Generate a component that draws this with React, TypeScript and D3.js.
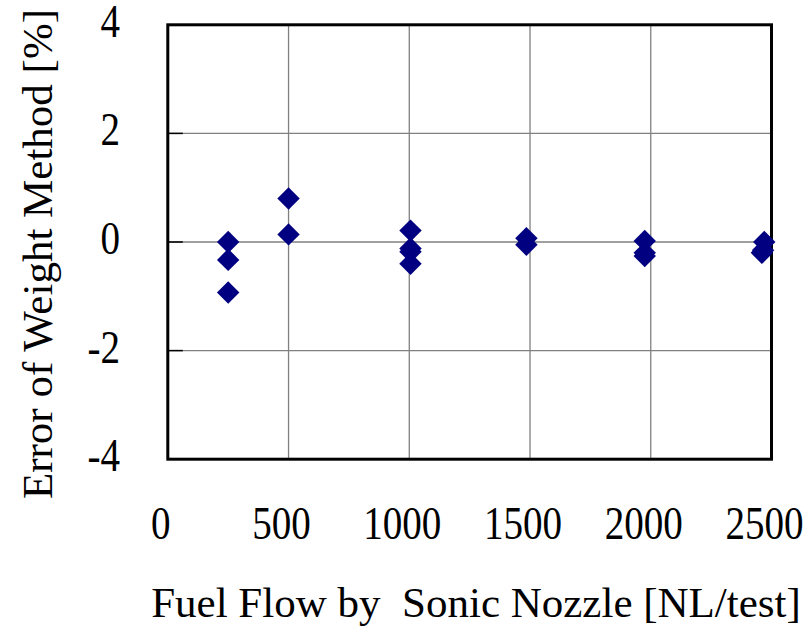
import React from "react";
import * as d3 from "d3";

// Measured fuel flow (NL/test) and the weight-method error (%) at each point
const flowValues = [
  250, 250, 250,
  500, 500,
  1005, 1005, 1005, 1005,
  1485, 1485,
  1975, 1975, 1975,
  2470, 2465, 2460,
];
const errorValues = [
  0.0, -0.33, -0.93,
  0.8, 0.14,
  0.21, -0.12, -0.18, -0.4,
  0.07, -0.05,
  0.02, -0.2, -0.26,
  0.0, -0.15, -0.2,
];
const xTicks = [0, 500, 1000, 1500, 2000, 2500];
const yTicks = [-4, -2, 0, 2, 4];
const xTitle = "Fuel Flow by  Sonic Nozzle [NL/test]";
const yTitle = "Error of Weight Method [%]";

const W = 811;
const H = 626;
const plot = { left: 167.8, right: 771.5, top: 24.8, bottom: 459.2 };
const font = "'Liberation Serif', 'Times New Roman', serif";
const tickFontSize = 46;
const tickSquash = 0.85;
const titleFontSize = 43;

export default function App() {
  const x = d3.scaleLinear().domain([0, 2500]).range([plot.left, plot.right]);
  const y = d3.scaleLinear().domain([-4, 4]).range([plot.bottom, plot.top]);
  const diamond = d3.symbol().type(d3.symbolDiamond2).size(320)();

  return (
    <svg
      width={W}
      height={H}
      style={{ position: "absolute", left: 0, top: 0, background: "#fff" }}
    >
      {/* grid */}
      {xTicks.slice(1, -1).map((t) => (
        <line
          key={"gx" + t}
          x1={x(t)}
          x2={x(t)}
          y1={plot.top}
          y2={plot.bottom}
          stroke="#808080"
          strokeWidth={1.3}
        />
      ))}
      {yTicks.slice(1, -1).map((t) => (
        <line
          key={"gy" + t}
          x1={plot.left}
          x2={plot.right}
          y1={y(t)}
          y2={y(t)}
          stroke="#808080"
          strokeWidth={1.3}
        />
      ))}
      {/* inward ticks on the value axis */}
      {yTicks.map((t) => (
        <line
          key={"ty" + t}
          x1={plot.left}
          x2={plot.left + 15}
          y1={y(t)}
          y2={y(t)}
          stroke="#000"
          strokeWidth={1.5}
        />
      ))}
      {/* frame */}
      <rect
        x={plot.left}
        y={plot.top}
        width={plot.right - plot.left}
        height={plot.bottom - plot.top}
        fill="none"
        stroke="#000"
        strokeWidth={3}
      />
      {/* points */}
      {flowValues.map((f, i) => (
        <path
          key={"p" + i}
          d={diamond ?? ""}
          transform={`translate(${x(f)},${y(errorValues[i])})`}
          fill="#000080"
        />
      ))}
      {/* tick labels */}
      {xTicks.map((t) => (
        <text
          key={"lx" + t}
          transform={`translate(${x(t) - 7},539) scale(${tickSquash},1)`}
          textAnchor="middle"
          fontFamily={font}
          fontSize={tickFontSize}
          fill="#000"
        >
          {t}
        </text>
      ))}
      {yTicks.map((t) => (
        <text
          key={"ly" + t}
          transform={`translate(120,${y(t) + 12}) scale(${tickSquash},1)`}
          textAnchor="end"
          fontFamily={font}
          fontSize={tickFontSize}
          fill="#000"
        >
          {t}
        </text>
      ))}
      {/* axis titles */}
      <text
        x={476}
        y={617}
        textAnchor="middle"
        fontFamily={font}
        fontSize={titleFontSize}
        fill="#000"
        style={{ whiteSpace: "pre" }}
      >
        {xTitle}
      </text>
      <text
        transform={`translate(52,254) rotate(-90)`}
        textAnchor="middle"
        fontFamily={font}
        fontSize={titleFontSize}
        fill="#000"
      >
        {yTitle}
      </text>
    </svg>
  );
}
